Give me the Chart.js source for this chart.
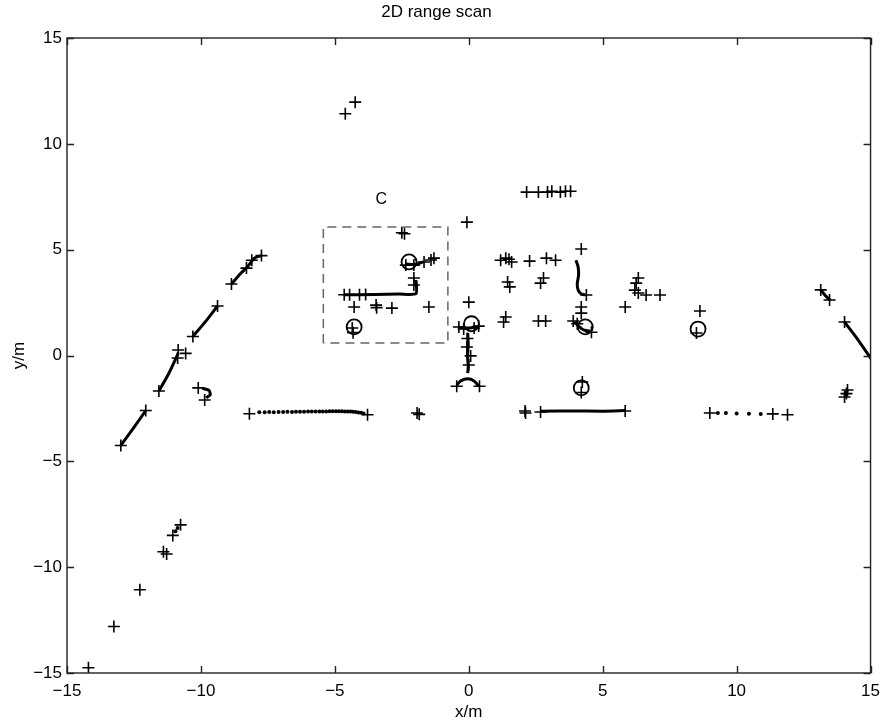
<!DOCTYPE html>
<html>
<head>
<meta charset="utf-8">
<title>2D range scan</title>
<script src="https://cdn.jsdelivr.net/npm/chart.js@4.4.0/dist/chart.umd.min.js"></script>
<style>
  html, body { margin: 0; padding: 0; background: #fff; }
  #wrap { width: 888px; height: 723px; }
</style>
</head>
<body>
<div id="wrap"><canvas id="scan"></canvas></div>
<script>
'use strict';

// axis ticks (m)
const xTicks = [-15, -10, -5, 0, 5, 10, 15];
const yTicks = [-15, -10, -5, 0, 5, 10, 15];

// '+' markers
const crossPts = [
  [-14.2, -14.75], [-13.25, -12.8], [-12.28, -11.07], [-11.4, -9.27], [-11.28, -9.38],
  [-11.05, -8.5], [-10.76, -8.0],
  [-12.99, -4.25], [-12.06, -2.6], [-11.57, -1.68], [-10.87, -0.12], [-10.85, 0.26],
  [-10.57, 0.1], [-10.3, 0.9], [-9.38, 2.34], [-8.86, 3.38], [-8.3, 4.13], [-8.1, 4.5], [-7.74, 4.72],
  [-10.1, -1.53], [-9.86, -2.1],
  [-8.19, -2.75], [-3.78, -2.8], [-1.93, -2.72], [-1.85, -2.78],
  [-4.61, 11.42], [-4.24, 11.97],
  [-2.5, 5.8], [-2.4, 5.75],
  [-2.35, 4.27], [-2.05, 4.27], [-1.67, 4.42], [-1.41, 4.51], [-1.3, 4.6],
  [-2.05, 3.66], [-2.05, 3.33],
  [-4.65, 2.87], [-4.45, 2.87], [-4.08, 2.87], [-3.85, 2.88],
  [-4.28, 2.29], [-3.46, 2.38], [-3.44, 2.26], [-2.87, 2.24], [-1.49, 2.29],
  [-4.35, 1.3], [-4.32, 1.08],
  [-0.07, 6.3], [0.0, 2.52], [-0.37, 1.35], [-0.19, 1.25], [0.37, 1.39], [0.2, 1.3],
  [-0.05, 0.8], [-0.07, 0.4], [0.07, -0.02], [0.0, -0.45],
  [-0.45, -1.45], [0.4, -1.45],
  [1.19, 4.5], [1.38, 4.6], [1.5, 4.55], [1.6, 4.42], [2.27, 4.46], [2.9, 4.6], [3.24, 4.5],
  [1.45, 3.47], [1.53, 3.24], [2.79, 3.66], [2.68, 3.42],
  [1.38, 1.82], [1.3, 1.58], [2.6, 1.63], [2.87, 1.63],
  [2.16, 7.72], [2.6, 7.72], [2.94, 7.72], [3.1, 7.76], [3.42, 7.72], [3.61, 7.76], [3.8, 7.76],
  [4.2, 5.03], [4.39, 2.86], [4.2, 2.29], [4.2, 2.0], [3.9, 1.63], [4.05, 1.5], [4.58, 1.1],
  [5.84, 2.29], [6.33, 3.66], [6.25, 3.42], [6.2, 3.09], [6.33, 2.95], [6.62, 2.86], [7.14, 2.86],
  [8.63, 2.1], [8.5, 1.06],
  [13.14, 3.1], [13.47, 2.62], [14.03, 1.58],
  [14.14, -1.63], [14.1, -1.8], [14.03, -1.96],
  [4.24, -1.25], [4.2, -1.75],
  [2.12, -2.72], [2.1, -2.62], [2.68, -2.67], [5.84, -2.62],
  [9.0, -2.72], [11.35, -2.76], [11.9, -2.8]
];

// single scan returns shown as dots
const dotPts = [
  [-10.95, -8.3], [-10.87, -8.15],
  [-7.82, -2.68], [-7.62, -2.68], [-7.45, -2.67], [-7.28, -2.68], [-7.1, -2.67], [-6.93, -2.67],
  [-6.77, -2.66], [-6.6, -2.67], [-6.45, -2.66], [-6.3, -2.66], [-6.15, -2.66], [-6.0, -2.65],
  [-5.86, -2.65], [-5.72, -2.65], [-5.58, -2.64], [-5.45, -2.64], [-5.32, -2.64], [-5.2, -2.63],
  [-5.08, -2.63], [-4.96, -2.63], [-4.85, -2.63], [-4.74, -2.63], [-4.63, -2.64], [-4.52, -2.64],
  [-4.42, -2.65], [-4.32, -2.66], [-4.22, -2.67], [-4.12, -2.69], [-4.02, -2.71], [-3.93, -2.74],
  [9.3, -2.72], [9.6, -2.72], [10.0, -2.74], [10.46, -2.75], [10.9, -2.76]
];

// 'o' markers (feature points)
const circlePts = [
  [-2.23, 4.42], [-4.28, 1.35], [0.1, 1.5], [4.35, 1.35], [8.56, 1.25], [4.2, -1.53]
];

// dense scan runs, drawn as connected returns
const scanRuns = [
  [[-12.99, -4.25], [-12.5, -3.4], [-12.06, -2.6]],
  [[-11.57, -1.68], [-11.2, -0.85], [-10.85, 0.1]],
  [[-10.3, 0.9], [-9.8, 1.65], [-9.38, 2.34]],
  [[-8.86, 3.38], [-8.5, 3.9], [-8.3, 4.13], [-8.0, 4.6], [-7.74, 4.72]],
  [[-9.95, -1.55], [-9.7, -1.65], [-9.65, -1.85], [-9.8, -2.0]],
  [[-4.65, 2.87], [-3.5, 2.88], [-2.6, 2.9], [-1.97, 2.92], [-1.97, 3.57]],
  [[-2.35, 4.32], [-2.0, 4.3], [-1.7, 4.42]],
  [[-0.04, 1.06], [-0.02, 0.5], [-0.05, 0.0], [-0.02, -0.5], [-0.04, -0.83]],
  [[-0.45, -1.4], [-0.3, -1.2], [-0.04, -1.1], [0.2, -1.2], [0.37, -1.44]],
  [[-0.37, 1.33], [0.0, 1.3], [0.37, 1.36]],
  [[4.0, 4.5], [4.08, 4.2], [4.1, 3.8], [4.05, 3.4], [4.08, 3.1], [4.2, 2.9], [4.35, 2.87]],
  [[3.95, 1.6], [4.05, 1.45], [4.3, 1.2], [4.55, 1.15]],
  [[2.68, -2.63], [4.0, -2.62], [5.0, -2.63], [5.84, -2.6]],
  [[13.14, 3.1], [13.3, 2.85], [13.5, 2.6]],
  [[14.03, 1.58], [14.5, 0.8], [15.1, -0.3]],
  [[14.03, -1.9], [14.14, -1.65]]
];

// dashed box around region C
const boxC = [[-5.43, 0.59], [-5.43, 6.07], [-0.78, 6.07], [-0.78, 0.59], [-5.43, 0.59]];
const labelC = { text: 'C', x: -3.27, y: 7.38 };

const FONT = '"Liberation Sans", Arial, sans-serif';
Chart.defaults.font.family = FONT;
Chart.defaults.color = '#000';

function toXY(list) {
  return list.map(function (p) { return { x: p[0], y: p[1] }; });
}

function minusSign(v) {
  return String(v).replace('-', '\u2212');
}

// matlab style box with inward ticks, plus the text label
const boxTicks = {
  id: 'boxTicks',
  afterDraw: function (chart) {
    const ctx = chart.ctx;
    const a = chart.chartArea;
    const sx = chart.scales.x;
    const sy = chart.scales.y;
    const len = 7;
    ctx.save();
    ctx.strokeStyle = '#222';
    ctx.lineWidth = 1.4;
    ctx.strokeRect(a.left, a.top, a.right - a.left, a.bottom - a.top);
    ctx.beginPath();
    xTicks.forEach(function (t) {
      const px = Math.round(sx.getPixelForValue(t)) + 0.5;
      ctx.moveTo(px, a.bottom); ctx.lineTo(px, a.bottom - len);
      ctx.moveTo(px, a.top); ctx.lineTo(px, a.top + len);
    });
    yTicks.forEach(function (t) {
      const py = Math.round(sy.getPixelForValue(t)) + 0.5;
      ctx.moveTo(a.left, py); ctx.lineTo(a.left + len, py);
      ctx.moveTo(a.right, py); ctx.lineTo(a.right - len, py);
    });
    ctx.stroke();
    ctx.fillStyle = '#000';
    ctx.font = '16px ' + FONT;
    ctx.textAlign = 'center';
    ctx.textBaseline = 'middle';
    ctx.fillText(labelC.text, sx.getPixelForValue(labelC.x), sy.getPixelForValue(labelC.y));
    ctx.restore();
  }
};

const datasets = [];
scanRuns.forEach(function (run) {
  datasets.push({
    data: toXY(run), showLine: true, borderColor: '#000', borderWidth: 3,
    pointRadius: 0, tension: 0.2
  });
});
datasets.push({
  data: toXY(boxC), showLine: true, borderColor: '#666', borderWidth: 1.5,
  borderDash: [9, 6], pointRadius: 0
});
datasets.push({
  data: toXY(dotPts), pointStyle: 'circle', pointRadius: 2,
  backgroundColor: '#000', borderColor: '#000', borderWidth: 0
});
datasets.push({
  data: toXY(circlePts), pointStyle: 'circle', pointRadius: 7.5,
  backgroundColor: 'rgba(0,0,0,0)', borderColor: '#000', borderWidth: 1.8
});
datasets.push({
  data: toXY(crossPts), pointStyle: 'cross', pointRadius: 6,
  borderColor: '#000', borderWidth: 1.6
});

new Chart(document.getElementById('scan'), {
  type: 'scatter',
  data: { datasets: datasets },
  options: {
    responsive: true,
    maintainAspectRatio: false,
    animation: false,
    events: [],
    layout: { padding: { left: 0, right: 15, top: 0, bottom: 0 } },
    plugins: {
      legend: { display: false },
      tooltip: { enabled: false },
      title: {
        display: true, text: '2D range scan', color: '#000',
        font: { size: 17, weight: 'normal' }, padding: { top: 2, bottom: 15.6 }
      }
    },
    scales: {
      x: {
        type: 'linear', min: -15, max: 15,
        afterBuildTicks: function (s) { s.ticks = xTicks.map(function (v) { return { value: v }; }); },
        afterFit: function (s) { s.height = 50; },
        grid: { display: false, drawTicks: false },
        border: { display: false },
        ticks: { padding: 8, font: { size: 17 }, callback: minusSign, maxRotation: 0 },
        title: { display: true, text: 'x/m', font: { size: 17 }, padding: { top: 0, bottom: 0 } }
      },
      y: {
        type: 'linear', min: -15, max: 15,
        afterBuildTicks: function (s) { s.ticks = yTicks.map(function (v) { return { value: v }; }); },
        afterFit: function (s) { s.width = 67; },
        grid: { display: false, drawTicks: false },
        border: { display: false },
        ticks: { padding: 5, font: { size: 17 }, callback: minusSign },
        title: { display: true, text: 'y/m', font: { size: 17 }, padding: { top: 9, bottom: 0 } }
      }
    }
  },
  plugins: [boxTicks]
});
</script>
</body>
</html>
